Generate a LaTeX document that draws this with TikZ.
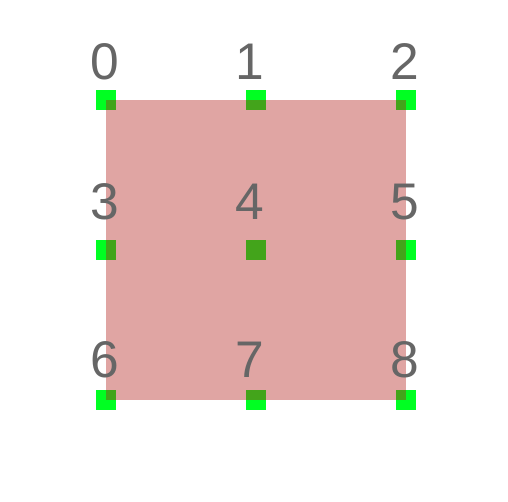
\documentclass[tikz,border=0pt]{standalone}
\usepackage{fontspec}
\setmainfont{Liberation Sans}
\definecolor{mark}{RGB}{0,255,34}
\definecolor{sq}{RGB}{175,23,18}
\definecolor{lbl}{RGB}{102,102,102}
\tikzset{
  marker/.style={fill=mark, draw=none, minimum size=20pt, inner sep=0pt, outer sep=0pt},
  lab/.style={text=lbl, font=\fontsize{51.5}{52}\selectfont, anchor=base, inner sep=0pt},
  sqbox/.style={fill=sq, fill opacity=0.388, draw=none}
}
\begin{document}
\begin{tikzpicture}[x=1pt,y=-1pt]
\useasboundingbox (0,0) rectangle (508,502);
\foreach \i/\x/\y in {0/106/100,1/256/100,2/406/100,3/106/250,4/256/250,5/406/250,6/106/400,7/256/400,8/406/400}{
  \node[marker] (m\i) at (\x,\y) {};
}
\fill[sqbox] (m0.center) rectangle (m8.center);
\foreach \i/\dx/\dy in {0/-1/20,1/-6/20,2/-1.5/20,3/-1/30,4/-6/30,5/-1.5/30,6/-1/22.5,7/-6/22.5,8/-1.5/22.5}{
  \node[lab] (l\i) at ([xshift=\dx pt,yshift=\dy pt]m\i.center) {\i};
}
\end{tikzpicture}
\end{document}
